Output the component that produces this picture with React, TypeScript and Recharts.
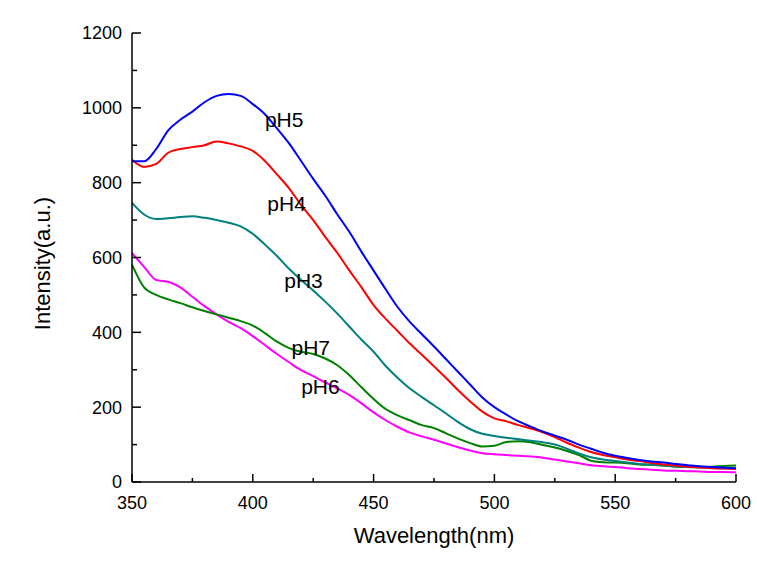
import React from 'react';
import { LineChart, Line, XAxis, YAxis, ReferenceDot } from 'recharts';

const wavelengths = [
  350, 355, 360, 365, 370, 375, 380, 385, 390, 395, 400, 405, 410, 415, 420, 425, 430, 435, 440, 445,
  450, 455, 460, 465, 470, 475, 480, 485, 490, 495, 500, 505, 510, 515, 520, 525, 530, 535, 540, 545,
  550, 555, 560, 565, 570, 575, 580, 585, 590, 595, 600,
];

const pH5 = [
  857, 857, 890, 940, 968, 990, 1015, 1032, 1037, 1032, 1010, 983, 945, 905, 858, 810, 765, 715, 668, 615,
  565, 515, 467, 428, 395, 362, 328, 294, 260, 226, 200, 180, 162, 148, 135, 124, 113, 100, 89, 78,
  70, 64, 59, 55, 52, 48, 45, 42, 40, 38, 37,
];

const pH4 = [
  861, 842, 850, 880, 890, 895, 900, 910, 905, 897, 885, 858, 822, 785, 740, 700, 655, 612, 565, 520,
  473, 436, 403, 370, 340, 309, 278, 245, 215, 188, 170, 162, 152, 143, 133, 120, 105, 92, 80, 72,
  66, 60, 56, 51, 47, 44, 41, 39, 37, 36, 35,
];

const pH3 = [
  746, 715, 703, 705, 708, 710, 706, 700, 693, 683, 663, 635, 604, 570, 540, 512, 482, 450, 415, 380,
  348, 310, 278, 250, 227, 205, 183, 160, 141, 129, 123, 118, 114, 110, 106, 100, 89, 76, 66, 60,
  56, 52, 48, 46, 44, 42, 40, 39, 38, 37, 37,
];

const pH7 = [
  581, 520, 500, 488, 478, 467, 457, 448, 439, 430, 418, 398, 375, 358, 348, 342, 330, 312, 285, 253,
  222, 195, 178, 165, 152, 144, 130, 116, 104, 95, 97, 107, 109, 106, 99, 92, 83, 72, 57, 53,
  52, 50, 47, 46, 44, 41, 40, 40, 41, 43, 44,
];

const pH6 = [
  612, 575, 540, 535, 520, 495, 470, 448, 428, 411, 390, 366, 342, 320, 299, 283, 266, 250, 232, 210,
  186, 165, 147, 132, 122, 113, 103, 93, 84, 77, 74, 72, 70, 68, 65, 60, 55, 50, 45, 42,
  40, 37, 35, 33, 31, 30, 29, 28, 27, 27, 26,
];

const xTicks = [350, 375, 400, 425, 450, 475, 500, 525, 550, 575, 600];
const yTicks = [0, 100, 200, 300, 400, 500, 600, 700, 800, 900, 1000, 1100, 1200];

// curve labels, placed in data units
const curveLabels = [
  { text: 'pH5', x: 413, y: 968 },
  { text: 'pH4', x: 414, y: 744 },
  { text: 'pH3', x: 421, y: 538 },
  { text: 'pH7', x: 424, y: 359 },
  { text: 'pH6', x: 428, y: 255 },
];

const data = wavelengths.map((wl, i) => ({
  wl,
  pH3: pH3[i],
  pH4: pH4[i],
  pH5: pH5[i],
  pH6: pH6[i],
  pH7: pH7[i],
}));

const FONT = '"Liberation Sans", Arial, sans-serif';

const XTick = ({ x, y, payload }: any) => {
  const major = payload.value % 50 === 0;
  return (
    <g>
      <line x1={x} y1={y} x2={x} y2={y - (major ? 8 : 4)} stroke="#000" strokeWidth={1.5} />
      {major && (
        <text x={x} y={y + 14} dy="0.71em" textAnchor="middle" fontSize={18} fontFamily={FONT} fill="#000">
          {payload.value}
        </text>
      )}
    </g>
  );
};

const YTick = ({ x, y, payload }: any) => {
  const major = payload.value % 200 === 0;
  return (
    <g>
      <line x1={x} y1={y} x2={x + (major ? 9 : 5)} y2={y} stroke="#000" strokeWidth={1.5} />
      {major && (
        <text x={x - 10} y={y} dy="0.355em" textAnchor="end" fontSize={18} fontFamily={FONT} fill="#000">
          {payload.value}
        </text>
      )}
    </g>
  );
};

const CurveLabel = ({ cx, cy, text }: any) => (
  <text x={cx} y={cy} dy="0.355em" textAnchor="middle" fontSize={21} fontFamily={FONT} fill="#000">
    {text}
  </text>
);

export default function App() {
  return (
    <div style={{ position: 'absolute', left: 0, top: 0, background: '#fff' }}>
      <LineChart width={757} height={565} data={data} margin={{ top: 33, right: 21, left: 0, bottom: 0 }}>
        <XAxis
          dataKey="wl"
          type="number"
          domain={[350, 600]}
          ticks={xTicks}
          height={83}
          tickSize={0}
          tickMargin={0}
          tickLine={false}
          tick={<XTick />}
          axisLine={{ stroke: '#000', strokeWidth: 1.5 }}
          label={{
            content: ({ viewBox }: any) => (
              <text
                x={viewBox.x + viewBox.width / 2}
                y={viewBox.y + 53}
                dy="0.355em"
                textAnchor="middle"
                fontSize={22}
                fontFamily={FONT}
                fill="#000"
              >
                Wavelength(nm)
              </text>
            ),
          }}
        />
        <YAxis
          type="number"
          domain={[0, 1200]}
          ticks={yTicks}
          width={132}
          tickSize={0}
          tickMargin={0}
          tickLine={false}
          tick={<YTick />}
          axisLine={{ stroke: '#000', strokeWidth: 1.5 }}
          label={{
            content: ({ viewBox }: any) => {
              const cx = viewBox.x + 42;
              const cy = viewBox.y + viewBox.height / 2 + 6;
              return (
                <text
                  x={cx}
                  y={cy}
                  dy="0.355em"
                  textAnchor="middle"
                  fontSize={22}
                  fontFamily={FONT}
                  fill="#000"
                  transform={`rotate(-90 ${cx} ${cy})`}
                >
                  Intensity(a.u.)
                </text>
              );
            },
          }}
        />
        <Line type="monotone" dataKey="pH6" stroke="#ff00ff" strokeWidth={2} dot={false} isAnimationActive={false} />
        <Line type="monotone" dataKey="pH7" stroke="#008000" strokeWidth={2} dot={false} isAnimationActive={false} />
        <Line type="monotone" dataKey="pH3" stroke="#008080" strokeWidth={2} dot={false} isAnimationActive={false} />
        <Line type="monotone" dataKey="pH4" stroke="#ff0000" strokeWidth={2} dot={false} isAnimationActive={false} />
        <Line type="monotone" dataKey="pH5" stroke="#0000ff" strokeWidth={2} dot={false} isAnimationActive={false} />
        {curveLabels.map((l) => (
          <ReferenceDot
            key={l.text}
            x={l.x}
            y={l.y}
            r={0}
            shape={(props: any) => <CurveLabel {...props} text={l.text} />}
          />
        ))}
      </LineChart>
    </div>
  );
}
